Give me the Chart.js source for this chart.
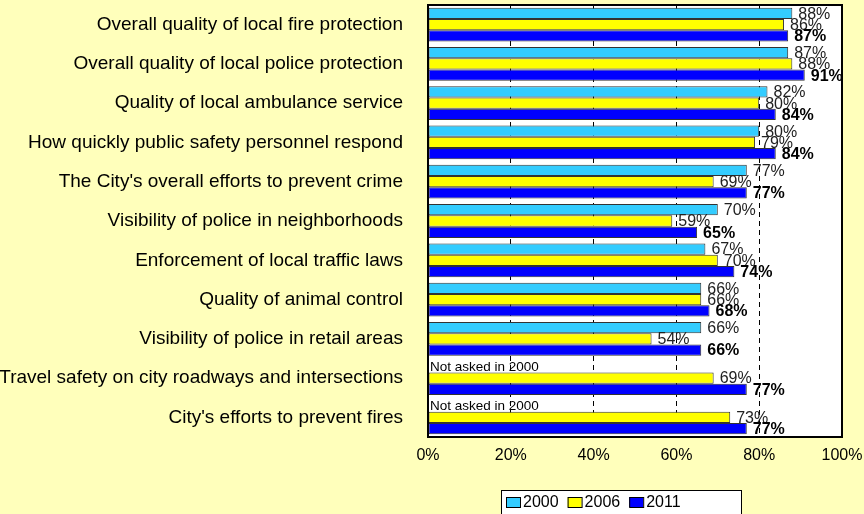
<!DOCTYPE html>
<html>
<head>
<meta charset="utf-8">
<script src="https://cdn.jsdelivr.net/npm/chart.js@4"></script>
<style>
  body { margin: 0; background: #FFFFBB; }
  canvas { display: block; }
</style>
</head>
<body>
<canvas id="grafico" width="864" height="514"></canvas>
<script>
// categorias y valores (%)
const categorias = [
  "Overall quality of local fire protection",
  "Overall quality of local police protection",
  "Quality of local ambulance service",
  "How quickly public safety personnel respond",
  "The City's overall efforts to prevent crime",
  "Visibility of police in neighborhoods",
  "Enforcement of local traffic laws",
  "Quality of animal control",
  "Visibility of police in retail areas",
  "Travel safety on city roadways and intersections",
  "City's efforts to prevent fires"
];
const anios = ["2000", "2006", "2011"];
const datos2000 = [88, 87, 82, 80, 77, 70, 67, 66, 66, null, null];
const datos2006 = [86, 88, 80, 79, 69, 59, 70, 66, 54, 69, 73];
const datos2011 = [87, 91, 84, 84, 77, 65, 74, 68, 66, 77, 77];
const ticksX = [0, 20, 40, 60, 80, 100];
const colores = ["#33CCFF", "#FFFF00", "#0000FF"];
const textoNoPreguntado = "Not asked in 2000";

// fondo blanco del area y marco negro
const fondo = {
  id: "fondo",
  beforeDraw(chart) {
    const { ctx, chartArea: a } = chart;
    ctx.save();
    ctx.fillStyle = "#FFFFBB";
    ctx.fillRect(0, 0, chart.width, chart.height);
    ctx.fillStyle = "#FFFFFF";
    ctx.fillRect(a.left, a.top, a.right - a.left, a.bottom - a.top);
    ctx.restore();
  },
  afterDraw(chart) {
    const { ctx, chartArea: a } = chart;
    ctx.save();
    ctx.strokeStyle = "#000";
    ctx.lineWidth = 2;
    ctx.strokeRect(a.left, a.top, a.right - a.left, a.bottom - a.top);

    // leyenda con caja
    ctx.fillStyle = "#FFFFFF";
    ctx.fillRect(501, 490, 240, 26);
    ctx.lineWidth = 1;
    ctx.strokeRect(501.5, 490.5, 240, 26);
    ctx.font = "16px Arial, 'Liberation Sans'";
    ctx.textBaseline = "middle";
    ctx.textAlign = "left";
    let x = 506;
    chart.data.datasets.forEach(ds => {
      ctx.fillStyle = ds.backgroundColor;
      ctx.fillRect(x, 497, 14, 10);
      ctx.strokeStyle = "#000";
      ctx.strokeRect(x + 0.5, 497.5, 14, 10);
      ctx.fillStyle = "#000";
      ctx.fillText(ds.label, x + 17, 503);
      x += 17 + ctx.measureText(ds.label).width + 9;
    });
    ctx.restore();
  }
};

// etiquetas de valor al final de cada barra
const etiquetas = {
  id: "etiquetas",
  afterDatasetsDraw(chart) {
    const ctx = chart.ctx;
    ctx.save();
    ctx.textBaseline = "middle";
    ctx.textAlign = "left";
    chart.data.datasets.forEach((ds, i) => {
      const meta = chart.getDatasetMeta(i);
      meta.data.forEach((bar, j) => {
        const v = ds.data[j];
        if (v === null) {
          ctx.font = "13.5px Arial, 'Liberation Sans'";
          ctx.fillStyle = "#000";
          ctx.fillText(textoNoPreguntado, chart.chartArea.left + 2, bar.y);
          return;
        }
        ctx.font = (i === 2 ? "bold " : "") + "16px Arial, 'Liberation Sans'";
        ctx.fillStyle = i === 2 ? "#000" : "#222";
        ctx.fillText(v + "%", bar.x + 6, bar.y + 1);
      });
    });
    ctx.restore();
  }
};

const series = [datos2000, datos2006, datos2011];

new Chart(document.getElementById("grafico"), {
  type: "bar",
  data: {
    labels: categorias,
    datasets: series.map((d, i) => ({
      label: anios[i],
      data: d,
      backgroundColor: colores[i],
      borderColor: "#333",
      borderWidth: 1,
      borderSkipped: false,
      barPercentage: 1,
      categoryPercentage: 0.86
    }))
  },
  options: {
    indexAxis: "y",
    responsive: false,
    animation: false,
    layout: { padding: { top: 5, right: 22, bottom: 37, left: 0 } },
    plugins: {
      legend: { display: false },
      tooltip: { enabled: false }
    },
    scales: {
      x: {
        min: 0,
        max: 100,
        afterFit: s => {
          s.height = 40;
          s.paddingLeft = 0; s.paddingRight = 0; s.paddingTop = 0; s.paddingBottom = 0;
        },
        afterBuildTicks: s => { s.ticks = ticksX.map(v => ({ value: v })); },
        ticks: {
          callback: v => v + "%",
          color: "#000",
          padding: 9,
          maxRotation: 0,
          font: { family: "Arial, 'Liberation Sans'", size: 16 }
        },
        grid: {
          drawTicks: false,
          color: ctx => (ctx.tick && (ctx.tick.value === 0 || ctx.tick.value === 100)) ? "rgba(0,0,0,0)" : "#000",
          lineWidth: 1
        },
        border: { display: false, dash: [5, 4] }
      },
      y: {
        afterFit: s => {
          s.width = 428;
          s.paddingLeft = 0; s.paddingRight = 0; s.paddingTop = 0; s.paddingBottom = 0;
        },
        ticks: {
          color: "#000",
          padding: 25,
          font: { family: "Arial, 'Liberation Sans'", size: 19 }
        },
        grid: { display: false, drawTicks: false },
        border: { display: false }
      }
    }
  },
  plugins: [fondo, etiquetas]
});
</script>
</body>
</html>
